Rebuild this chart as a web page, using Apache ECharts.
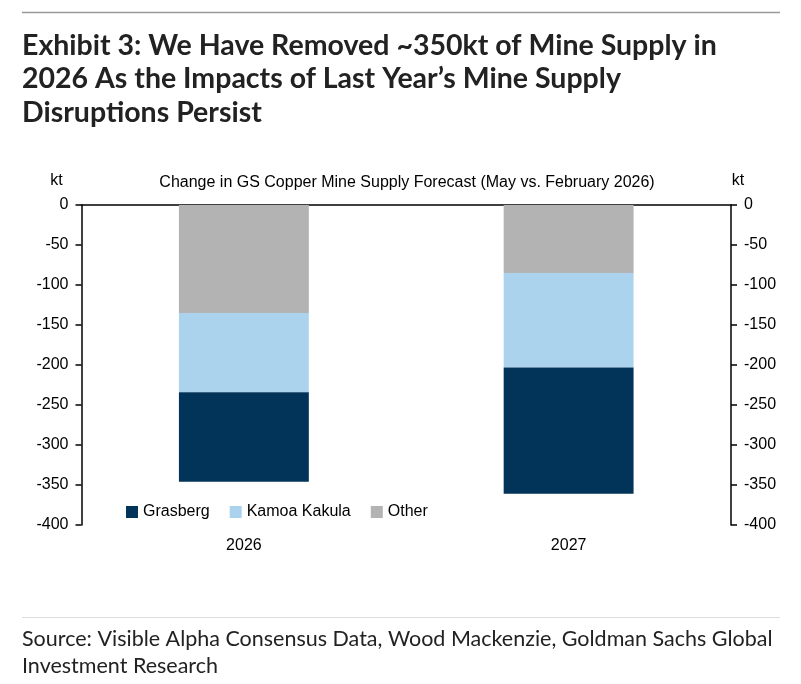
<!DOCTYPE html>
<html>
<head>
<meta charset="utf-8">
<script src="https://cdn.jsdelivr.net/npm/echarts@6/dist/echarts.min.js"></script>
<style>
  html, body { margin: 0; padding: 0; background: #fff; }
  #main { width: 801px; height: 684px; }
</style>
</head>
<body>
<div id="main"></div>
<script>
// data (kt)
const years = ['2026', '2027'];
const grasberg = [-112, -158];
const kamoaKakula = [-99, -118];
const other = [-135, -85];
const yTicks = { min: -400, max: 0, step: 50 };

const headingLines = [
    'Exhibit 3: We Have Removed ~350kt of Mine Supply in',
    '2026 As the Impacts of Last Year\u2019s Mine Supply',
    'Disruptions Persist'
];
const sourceLines = [
    'Source: Visible Alpha Consensus Data, Wood Mackenzie, Goldman Sachs Global',
    'Investment Research'
];

const chart = echarts.init(document.getElementById('main'));
const axisFont = { color: '#000', fontSize: 16, fontFamily: 'Liberation Sans, Arial' };

const yAxisBase = {
    type: 'value',
    min: yTicks.min,
    max: yTicks.max,
    interval: yTicks.step,
    splitLine: { show: false },
    axisLine: { show: true, lineStyle: { color: '#000', width: 1.5 } },
    axisTick: { show: true, length: 6, lineStyle: { color: '#000', width: 1.5 } },
    axisLabel: Object.assign({ margin: 13 }, axisFont)
};

const heading = headingLines.map((t, i) => ({
    type: 'text',
    left: 22,
    top: 31 + i * 33.5,
    style: {
        text: t,
        fill: '#222',
        font: 'bold 28.5px Lato'
    }
}));
const source = sourceLines.map((t, i) => ({
    type: 'text',
    left: 22,
    top: 628 + i * 27,
    style: {
        text: t,
        fill: '#222',
        font: '21.5px Lato'
    }
}));

const option = {
    animation: false,
    backgroundColor: '#fff',
    title: {
        text: 'Change in GS Copper Mine Supply Forecast (May vs. February 2026)',
        left: 402,
        textAlign: 'center',
        top: 170,
        textStyle: { color: '#000', fontSize: 16, fontWeight: 'normal', fontFamily: 'Liberation Sans, Arial' }
    },
    graphic: [
        { type: 'line', shape: { x1: 22, y1: 12.5, x2: 780, y2: 12.5 }, style: { stroke: '#999', lineWidth: 1.5 } },
        { type: 'line', shape: { x1: 22, y1: 617.5, x2: 780, y2: 617.5 }, style: { stroke: '#ddd', lineWidth: 1 } }
    ].concat(heading, source),
    legend: {
        left: 121,
        top: 499,
        itemWidth: 12,
        itemHeight: 12,
        itemGap: 20,
        icon: 'rect',
        textStyle: axisFont,
        data: ['Grasberg', 'Kamoa Kakula', 'Other']
    },
    grid: { left: 81.5, right: 70, top: 205, bottom: 159 },
    xAxis: [
        {
            type: 'category',
            data: years,
            position: 'bottom',
            axisLine: { show: false, onZero: false },
            axisTick: { show: false },
            axisLabel: Object.assign({ margin: 13 }, axisFont)
        },
        {
            type: 'category',
            data: years,
            position: 'top',
            axisLine: { show: true, onZero: false, lineStyle: { color: '#000', width: 1.5 } },
            axisTick: { show: false },
            axisLabel: { show: false }
        }
    ],
    yAxis: [
        Object.assign({}, yAxisBase, { position: 'left', name: 'kt', nameGap: 16, nameTextStyle: Object.assign({ padding: [0, 50, 0, 0] }, axisFont) }),
        Object.assign({}, yAxisBase, { position: 'right', name: 'kt', nameGap: 16, nameTextStyle: Object.assign({ padding: [0, 0, 0, 14] }, axisFont) })
    ],
    // stacked top-down: Other nearest zero, Grasberg at the bottom
    series: [
        { name: 'Other', type: 'bar', stack: 'total', data: other, barWidth: '40%', itemStyle: { color: '#B3B3B3' } },
        { name: 'Kamoa Kakula', type: 'bar', stack: 'total', data: kamoaKakula, itemStyle: { color: '#ABD3EE' } },
        { name: 'Grasberg', type: 'bar', stack: 'total', data: grasberg, itemStyle: { color: '#023358' } }
    ]
};

chart.setOption(option);
</script>
</body>
</html>
